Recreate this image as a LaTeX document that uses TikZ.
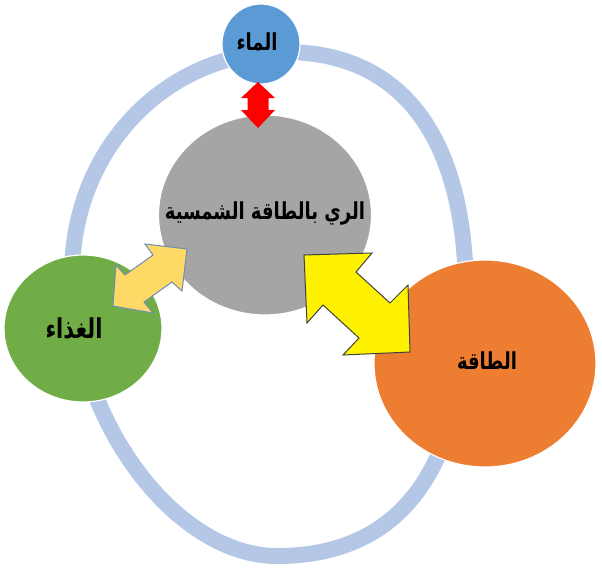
\documentclass[tikz,border=0pt]{standalone}
\usepackage{fontspec}
\newfontfamily\arabicfont[Script=Arabic]{DejaVu Sans}
\TeXXeTstate=1
\usetikzlibrary{shapes.geometric}
\definecolor{ringblue}{HTML}{B4C7E7}
\definecolor{waterblue}{HTML}{5B9BD5}
\definecolor{midgray}{HTML}{A5A5A5}
\definecolor{foodgreen}{HTML}{70AD47}
\definecolor{energyorange}{HTML}{ED7D31}
\definecolor{goldfill}{HTML}{FFD966}
\definecolor{goldedge}{HTML}{6F8FB5}
\definecolor{yellowedge}{HTML}{404040}
\newcommand{\artext}[1]{\scalebox{1}[1.3]{\beginR #1\endR}}
\begin{document}
\begin{tikzpicture}[x=1pt,y=-1pt,
  circ/.style={ellipse, inner sep=0pt, outer sep=0pt, draw=white, line width=1.2pt},
  lbl/.style={font={\arabicfont\bfseries\fontsize{18}{20}\selectfont}, text=black, inner sep=0pt},
  ringline/.style={draw=ringblue, line width=16pt},
  blockarrow/.style={line width=1pt, line join=miter}]
\useasboundingbox (0,0) rectangle (602,573);
% outer ring
\coordinate (rtop) at (285,52);
\coordinate (rright) at (466,295);
\coordinate (rbottom) at (277,556);
\coordinate (rleft) at (72,275);
\draw[ringline] (rtop) .. controls (400,52) and (466,135) .. (rright)
  .. controls (466,470) and (400,556) .. (rbottom)
  .. controls (174.5,556) and (72,418) .. (rleft)
  .. controls (72,150) and (165,52) .. (rtop) -- cycle;
% circles
\node[circ, fill=waterblue, minimum width=78pt, minimum height=80pt] (water) at (261,44) {};
\node[circ, fill=midgray, minimum width=213pt, minimum height=200pt] (center) at (265,215) {};
\node[circ, fill=foodgreen, minimum width=158pt, minimum height=147pt] (food) at (83,328.5) {};
\node[circ, fill=energyorange, minimum width=222pt, minimum height=207pt] (energy) at (485,363.5) {};
% block arrows
\fill[red] (258,82) -- (275,98) -- (268.5,98) -- (268.5,110) -- (275,110) -- (258,128)
  -- (241,110) -- (247.5,110) -- (247.5,98) -- (241,98) -- cycle;
\filldraw[blockarrow, fill=yellow, draw=yellowedge] (304,255) -- (372,253) -- (356,272) -- (390,303)
  -- (408,285) -- (410,352) -- (343,355) -- (359,338) -- (323,305) -- (307,323) -- cycle;
\filldraw[blockarrow, fill=goldfill, draw=goldedge] (187,249) -- (145,244) -- (153,255) -- (125,275)
  -- (116,265) -- (113,306) -- (153,313) -- (144,302) -- (172,282) -- (182,291) -- cycle;
% labels
\node[lbl] (twater) at (257,42) {\artext{الماء}};
\node[lbl] (tcenter) at (265,213) {\artext{الري بالطاقة الشمسية}};
\node[lbl, font={\arabicfont\bfseries\fontsize{21}{23}\selectfont}] (tfood) at (74,328) {\artext{الغذاء}};
\node[lbl] (tenergy) at (487,361) {\artext{الطاقة}};
\end{tikzpicture}
\end{document}
